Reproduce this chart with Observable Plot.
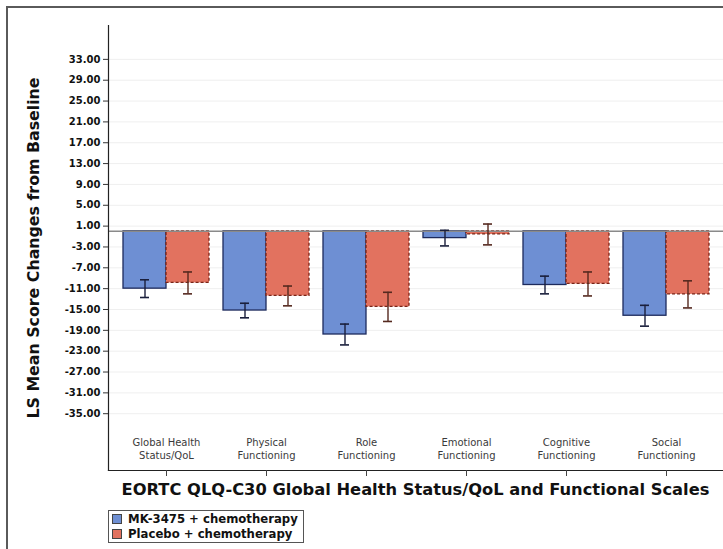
<!DOCTYPE html>
<html>
<head>
<meta charset="utf-8">
<script src="https://cdn.jsdelivr.net/npm/d3@7"></script>
<script src="https://cdn.jsdelivr.net/npm/@observablehq/plot@0.6"></script>
<style>
  html, body { margin: 0; padding: 0; background: #fff; }
  body { width: 723px; height: 549px; position: relative; overflow: hidden; font-family: "DejaVu Sans", sans-serif; }
  #border { position: absolute; left: 6px; top: 6px; width: 760px; height: 600px; border-left: 2px solid #5a5a5a; border-top: 2px solid #5a5a5a; box-sizing: border-box; }
  #chart { position: absolute; left: 0; top: 0; }
  #xtitle { position: absolute; left: 108px; top: 480px; width: 615px; text-align: center; font-weight: bold; font-size: 16.3px; color: #111; white-space: nowrap; }
  #legend { position: absolute; left: 108px; top: 510px; border: 1px solid #555; padding: 1px 5px 1px 3px; font-weight: bold; font-size: 11.7px; color: #111; }
  #legend div { display: flex; align-items: center; height: 14.5px; }
  #legend span.sw { display: inline-block; width: 8px; height: 8px; margin-right: 6px; border: 1px solid #444; }
</style>
</head>
<body>
<div id="border"></div>
<div id="chart"></div>
<div id="xtitle">EORTC QLQ-C30 Global Health Status/QoL and Functional Scales</div>
<div id="legend"></div>
<script>
// EORTC QLQ-C30 scales
const categories = ["Global Health Status/QoL", "Physical Functioning", "Role Functioning",
  "Emotional Functioning", "Cognitive Functioning", "Social Functioning"];
const categoryLabels = ["Global Health\nStatus/QoL", "Physical\nFunctioning", "Role\nFunctioning",
  "Emotional\nFunctioning", "Cognitive\nFunctioning", "Social\nFunctioning"];

// Treatment arms
const seriesNames = ["MK-3475 + chemotherapy", "Placebo + chemotherapy"];

// LS mean change from baseline and half-width of the error bar
const mkMean = [-11.0, -15.2, -19.8, -1.3, -10.3, -16.2];
const mkErr  = [1.7, 1.4, 2.0, 1.5, 1.7, 2.0];
const pbMean = [-9.9, -12.4, -14.5, -0.6, -10.1, -12.1];
const pbErr  = [2.1, 1.9, 2.8, 2.0, 2.3, 2.6];

// y axis ticks
const yTicks = [33, 29, 25, 21, 17, 13, 9, 5, 1, -3, -7, -11, -15, -19, -23, -27, -31, -35];

const colors = {
  mkFill: "#6e8fd3", mkStroke: "#1d2a5c", mkErrBar: "#1a1f3c",
  pbFill: "#e2725f", pbStroke: "#7a2417", pbErrBar: "#55291f"
};

const rows = categories.map((c, i) => ({
  cat: c, label: categoryLabels[i],
  mk: mkMean[i], mkLo: mkMean[i] - mkErr[i], mkHi: mkMean[i] + mkErr[i],
  pb: pbMean[i], pbLo: pbMean[i] - pbErr[i], pbHi: pbMean[i] + pbErr[i]
}));

const width = 723, height = 480;
const marginLeft = 108, marginRight = 0, marginTop = 25, marginBottom = 10;
const paddingInner = 0.14, paddingOuter = 0.145;
const step = (width - marginLeft - marginRight) / (categories.length - paddingInner + 2 * paddingOuter);
const bandwidth = step * (1 - paddingInner);
const half = bandwidth / 2;
const capWidth = 9;
const capInset = (bandwidth - capWidth) / 2;

const errMarks = (lo, hi, dx, stroke) => [
  Plot.ruleX(rows, {x: "cat", y1: lo, y2: hi, dx, stroke, strokeWidth: 1.4}),
  Plot.tickY(rows, {x: "cat", y: lo, dx, stroke, strokeWidth: 1.6, insetLeft: capInset, insetRight: capInset}),
  Plot.tickY(rows, {x: "cat", y: hi, dx, stroke, strokeWidth: 1.6, insetLeft: capInset, insetRight: capInset})
];

const chart = Plot.plot({
  width, height, marginLeft, marginRight, marginTop, marginBottom,
  style: {fontFamily: "DejaVu Sans, sans-serif", color: "#111", background: "transparent"},
  x: {domain: categories, paddingInner, paddingOuter, axis: null},
  y: {domain: [-45.9, 39.5], axis: null},
  marks: [
    Plot.gridY(yTicks, {stroke: "#efefef", strokeOpacity: 1}),
    Plot.barY(rows, {x: "cat", y: "mk", insetRight: half, fill: colors.mkFill,
      stroke: colors.mkStroke, strokeWidth: 1.3}),
    Plot.barY(rows, {x: "cat", y: "pb", insetLeft: half, fill: colors.pbFill,
      stroke: colors.pbStroke, strokeWidth: 1.3, strokeDasharray: "3,2"}),
    Plot.ruleY([0], {stroke: "#8a8a8a", strokeWidth: 1.5}),
    ...errMarks("mkLo", "mkHi", -half / 2, colors.mkErrBar),
    ...errMarks("pbLo", "pbHi", half / 2, colors.pbErrBar),
    Plot.frame({anchor: "left", stroke: "#222", strokeWidth: 1.2}),
    Plot.frame({anchor: "bottom", stroke: "#222", strokeWidth: 1.2}),
    Plot.axisY({ticks: yTicks, tickFormat: d => d.toFixed(2), tickSize: 5, tickPadding: 3,
      label: null, fontWeight: "bold", fontSize: 10, stroke: "#333"}),
    Plot.axisX({tickSize: 6, tickFormat: () => "", label: null, stroke: "#444"}),
    Plot.text(rows, {x: "cat", text: "label", frameAnchor: "bottom", dy: -12,
      lineHeight: 1.22, fontSize: 10, fill: "#3a3a3a"}),
    Plot.text(["LS Mean Score Changes from Baseline"], {frameAnchor: "left", dx: -75,
      rotate: -90, textAnchor: "middle", fontWeight: "bold", fontSize: 15.8, fill: "#111"})
  ]
});
document.getElementById("chart").appendChild(chart);

// legend
const legend = document.getElementById("legend");
[[seriesNames[0], colors.mkFill], [seriesNames[1], colors.pbFill]].forEach(([name, fill]) => {
  const row = document.createElement("div");
  const sw = document.createElement("span");
  sw.className = "sw";
  sw.style.background = fill;
  row.appendChild(sw);
  row.appendChild(document.createTextNode(name));
  legend.appendChild(row);
});
</script>
</body>
</html>
